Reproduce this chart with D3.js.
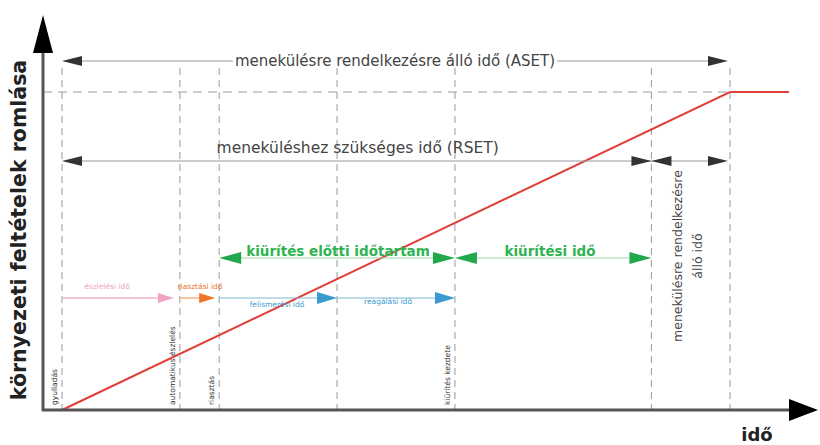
<!DOCTYPE html>
<html>
<head>
<meta charset="utf-8">
<style>
    body { margin: 0; background: #fff; }
    svg { font-family: "DejaVu Sans", "Liberation Sans", sans-serif; }
</style>
</head>
<body>
<script src="https://cdn.jsdelivr.net/npm/d3@7"></script>
<script>
    // event times (arbitrary units) where the dashed markers sit
    let eventTimes = [0, 15, 20, 35, 50, 75, 85];
    let eventLabels = ["gyulladás", "automatikus észlelés", "riasztás", "", "kiürítés kezdete", "", ""];
    let eventLabelAt = [0, 15, 20, 50];

    // degradation curve: time vs. level
    let curveT = [0, 85, 92.5];
    let curveV = [0, 100, 100];

    // spans: start, end, label
    let spanStarts = [0, 0, 15, 20, 35, 20, 50, 75];
    let spanEnds   = [85, 75, 20, 35, 50, 50, 75, 85];
    let spanNames  = ["menekülésre rendelkezésre álló idő (ASET)", "meneküléshez szükséges idő (RSET)",
                      "riasztási idő", "felismerési idő", "reagálási idő",
                      "kiürítés előtti időtartam", "kiürítési idő", "menekülésre rendelkezésre álló idő"];
    let detectName = "észlelési idő";

    let w = 820, h = 445;
    let svg = d3.select("body").append("svg").attr("width", w).attr("height", h);

    let x = d3.scaleLinear().domain([0, 85]).range([62, 730]);
    let y = d3.scaleLinear().domain([0, 100]).range([410, 92]);
    let ax = 43; // y axis x position

    function arrowHead(g, tipX, yy, dir, len, hw, color) {
        g.append("path")
            .attr("d", "M" + tipX + "," + yy + "L" + (tipX - dir * len) + "," + (yy - hw) +
                       "L" + (tipX - dir * len) + "," + (yy + hw) + "Z")
            .attr("fill", color);
    }

    // dashed verticals
    svg.append("g").selectAll("line").data(eventTimes).enter().append("line")
        .attr("x1", d => x(d)).attr("x2", d => x(d))
        .attr("y1", 68).attr("y2", 410)
        .attr("stroke", "#9a9a9a").attr("stroke-width", 1)
        .attr("stroke-dasharray", "7,5");

    // dashed horizontal at max level
    svg.append("line")
        .attr("x1", ax).attr("x2", x(85)).attr("y1", y(100)).attr("y2", y(100))
        .attr("stroke", "#9a9a9a").attr("stroke-width", 1).attr("stroke-dasharray", "9,6");

    // red curve
    let line = d3.line().x(d => x(d[0])).y(d => y(d[1]));
    svg.append("path")
        .datum(curveT.map((t, i) => [t, curveV[i]]))
        .attr("d", line).attr("fill", "none")
        .attr("stroke", "#e0403a").attr("stroke-width", 2);

    // axes
    svg.append("line").attr("x1", ax).attr("x2", ax).attr("y1", 411).attr("y2", 40)
        .attr("stroke", "#555").attr("stroke-width", 3);
    svg.append("path").attr("d", "M" + ax + ",15L" + (ax - 10) + ",53L" + (ax + 10) + ",53Z").attr("fill", "#000");
    svg.append("line").attr("x1", ax - 1).attr("x2", 795).attr("y1", 410).attr("y2", 410)
        .attr("stroke", "#555").attr("stroke-width", 3);
    arrowHead(svg, 818, 410, 1, 29, 11, "#000");

    svg.append("text").attr("x", 757).attr("y", 441).attr("text-anchor", "middle")
        .attr("font-size", 18).attr("font-weight", "bold").attr("fill", "#222").text("idő");
    svg.append("text").attr("transform", "translate(26,230) rotate(-90)").attr("text-anchor", "middle")
        .attr("font-size", 20.5).attr("font-weight", "bold").attr("fill", "#222")
        .text("környezeti feltételek romlása");

    // ASET
    let g = svg.append("g");
    g.append("line").attr("x1", x(spanStarts[0]) + 10).attr("x2", x(spanEnds[0]) - 10)
        .attr("y1", 61).attr("y2", 61).attr("stroke", "#999").attr("stroke-width", 1.2);
    let t0 = g.append("text").attr("x", (x(spanStarts[0]) + x(spanEnds[0])) / 2 - 1).attr("y", 61)
        .attr("dy", "0.35em").attr("text-anchor", "middle").attr("font-size", 15)
        .attr("fill", "#444").text(spanNames[0]);
    let bb = t0.node().getBBox();
    g.insert("rect", "text").attr("x", bb.x - 2).attr("y", 54).attr("width", bb.width + 4)
        .attr("height", 13).attr("fill", "#fff");
    arrowHead(g, x(spanStarts[0]), 61, -1, 20, 5, "#333");
    arrowHead(g, x(spanEnds[0]) - 2, 61, 1, 20, 5, "#333");

    // RSET
    g.append("line").attr("x1", x(spanStarts[1]) + 10).attr("x2", x(spanEnds[7]) - 10)
        .attr("y1", 161).attr("y2", 161).attr("stroke", "#999").attr("stroke-width", 1.2);
    g.append("text").attr("x", (x(spanStarts[1]) + x(spanEnds[1])) / 2 + 1).attr("y", 153)
        .attr("text-anchor", "middle").attr("font-size", 15.5).attr("fill", "#444").text(spanNames[1]);
    arrowHead(g, x(spanStarts[1]), 161, -1, 20, 5, "#333");
    arrowHead(g, x(spanEnds[1]), 161, 1, 20, 5, "#333");
    arrowHead(g, x(spanStarts[7]), 161, -1, 20, 5, "#333");
    arrowHead(g, x(spanEnds[7]) - 2, 161, 1, 20, 5, "#333");

    // right rotated label (two lines)
    let rl = g.append("text").attr("transform", "translate(" + (x(75) + 31) + ",256) rotate(-90)")
        .attr("text-anchor", "middle").attr("font-size", 12.5).attr("fill", "#444");
    rl.append("tspan").attr("x", 0).attr("dy", 0).text("menekülésre rendelkezésre");
    rl.append("tspan").attr("x", 0).attr("dy", "1.6em").text("álló idő");

    // green spans
    let green = "#22a84c";
    [5, 6].forEach(i => {
        let x1 = x(spanStarts[i]), x2 = x(spanEnds[i]);
        g.append("line").attr("x1", x1 + 10).attr("x2", x2 - 10).attr("y1", 258).attr("y2", 258)
            .attr("stroke", "#9bd6a8").attr("stroke-width", 1);
        arrowHead(g, x1, 258, -1, 22, 6, green);
        arrowHead(g, x2, 258, 1, 22, 6, green);
        let cx = i == 5 ? 338 : 550;
        g.append("text").attr("x", cx).attr("y", 256).attr("text-anchor", "middle")
            .attr("font-size", 13.5).attr("font-weight", "bold").attr("fill", "#2fb350").text(spanNames[i]);
    });

    // pink / orange / blue chain
    let py = 298;
    g.append("line").attr("x1", x(0)).attr("x2", x(15) - 14).attr("y1", py).attr("y2", py)
        .attr("stroke", "#f2b3cc").attr("stroke-width", 1.5);
    arrowHead(g, x(15) - 6, py, 1, 16, 5, "#f0a3c4");
    g.append("text").attr("x", 107).attr("y", py - 9).attr("text-anchor", "middle")
        .attr("font-size", 7.5).attr("fill", "#f0a3c4").text(detectName);

    g.append("line").attr("x1", x(15)).attr("x2", x(20) - 8).attr("y1", py).attr("y2", py)
        .attr("stroke", "#f6b27e").attr("stroke-width", 1.5);
    arrowHead(g, x(20) - 4, py, 1, 16, 5, "#ee7428");
    g.append("text").attr("x", 200).attr("y", py - 9).attr("text-anchor", "middle")
        .attr("font-size", 7.5).attr("fill", "#ee7428").text(spanNames[2]);

    let blue = "#3a9ad0";
    [3, 4].forEach(i => {
        let x1 = x(spanStarts[i]), x2 = x(spanEnds[i]);
        g.append("line").attr("x1", x1).attr("x2", x2 - 10).attr("y1", py).attr("y2", py)
            .attr("stroke", "#7fb8d8").attr("stroke-width", 1.2);
        arrowHead(g, x2, py, 1, 20, 6, blue);
        g.append("text").attr("x", i == 3 ? 277 : 388).attr("y", py + (i == 3 ? 9 : 6)).attr("text-anchor", "middle")
            .attr("font-size", 7.5).attr("fill", blue).text(spanNames[i]);
    });

    // event labels near bottom
    svg.append("g").selectAll("text").data(eventLabelAt).enter().append("text")
        .attr("transform", d => "translate(" + (x(d) - 5) + ",405) rotate(-90)")
        .attr("font-size", 7.5).attr("fill", "#333")
        .text(d => eventLabels[eventTimes.indexOf(d)]);
</script>
</body>
</html>
